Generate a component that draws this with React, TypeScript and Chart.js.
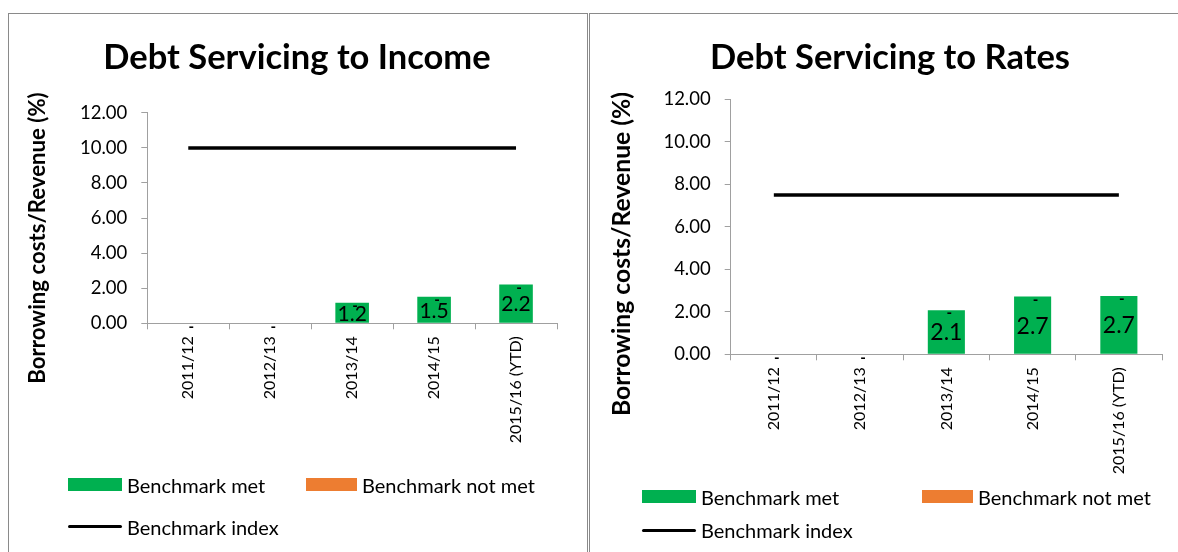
import React, { useEffect, useRef } from "react";
import { Chart, registerables } from "chart.js";

Chart.register(...registerables);

// ---- data ----
const categories = ["2011/12", "2012/13", "2013/14", "2014/15", "2015/16 (YTD)"];
const incomeMet = [0, 0, 1.17, 1.51, 2.21];
const incomeNotMet = [0, 0, 0, 0, 0];
const incomeBenchmark = [10, 10, 10, 10, 10];
const ratesMet = [0, 0, 2.08, 2.72, 2.74];
const ratesNotMet = [0, 0, 0, 0, 0];
const ratesBenchmark = [7.5, 7.5, 7.5, 7.5, 7.5];
const yMin = 0;
const yMax = 12;
const yStep = 2;
const yAxisTitle = "Borrowing costs/Revenue (%)";
const legendLabels = ["Benchmark met", "Benchmark not met", "Benchmark index"];

const GREEN = "#00B050";
const ORANGE = "#ED7D31";
const AXIS = "#a0a0a0";
const FONT = "Lato, Carlito, 'Open Sans', sans-serif";

const valueLabels = {
  id: "valueLabels",
  afterDatasetsDraw(chart: any, _a: any, opts: any) {
    const ctx = chart.ctx;
    const meta = chart.getDatasetMeta(0);
    const data = chart.data.datasets[0].data as number[];
    ctx.save();
    ctx.fillStyle = "#000";
    ctx.textAlign = "center";
    ctx.textBaseline = "middle";
    meta.data.forEach((el: any, i: number) => {
      const v = data[i];
      const { x, y, base } = el.getProps(["x", "y", "base"], true);
      if (v > 0) {
        ctx.font = `${opts.size}px ${FONT}`;
        ctx.fillText(v.toFixed(1), x, (y + base) / 2 + 1);
        ctx.font = `bold 15px ${FONT}`;
        ctx.fillText("-", x + 3, y + 3.5);
      } else {
        ctx.font = `bold 15px ${FONT}`;
        ctx.fillText("-", x + 3, base + 3.5);
      }
    });
    ctx.restore();
  },
};

const yTitlePlugin = {
  id: "yTitle",
  afterDraw(chart: any, _a: any, opts: any) {
    const ctx = chart.ctx;
    ctx.save();
    ctx.translate(opts.x, opts.y);
    ctx.rotate(-Math.PI / 2);
    ctx.fillStyle = "#000";
    ctx.textAlign = "center";
    ctx.textBaseline = "middle";
    ctx.font = `bold ${opts.size}px ${FONT}`;
    ctx.fillText(opts.text, 0, 0);
    ctx.restore();
  },
};

type PanelProps = {
  left: number;
  width: number;
  title: string;
  met: number[];
  notMet: number[];
  bench: number[];
  padL: number;
  padR: number;
  titleBottom: number;
  yWidth: number;
  xHeight: number;
  barPct: number;
  labelSize: number;
  yTitleX: number;
  yTitleY: number;
  yTitleSize: number;
};

function ChartPanel(p: PanelProps) {
  const ref = useRef<HTMLCanvasElement>(null);
  useEffect(() => {
    if (!ref.current) return;
    const chart = new Chart(ref.current, {
      type: "bar",
      data: {
        labels: categories,
        datasets: [
          {
            label: legendLabels[0],
            data: p.met,
            backgroundColor: GREEN,
            stack: "bars",
            barPercentage: p.barPct,
            categoryPercentage: 1,
            order: 2,
          },
          {
            label: legendLabels[1],
            data: p.notMet,
            backgroundColor: ORANGE,
            stack: "bars",
            barPercentage: p.barPct,
            categoryPercentage: 1,
            order: 2,
          },
          {
            type: "line",
            label: legendLabels[2],
            data: p.bench,
            borderColor: "#000",
            backgroundColor: "#000",
            borderWidth: 3.5,
            pointRadius: 0,
            stack: "line",
            order: 1,
          } as any,
        ],
      },
      options: {
        responsive: false,
        animation: false,
        devicePixelRatio: 1,
        layout: { padding: { left: p.padL, right: p.padR, top: 14, bottom: 0 } },
        plugins: {
          legend: { display: false },
          tooltip: { enabled: false },
          title: {
            display: true,
            text: p.title,
            color: "#000",
            font: { family: FONT, size: 34.5, weight: "bold", lineHeight: 1.2 },
            padding: { top: 23.3, bottom: p.titleBottom },
          },
          valueLabels: { size: p.labelSize },
          yTitle: { text: yAxisTitle, x: p.yTitleX, y: p.yTitleY, size: p.yTitleSize },
        } as any,
        scales: {
          x: {
            stacked: true,
            offset: true,
            grid: {
              offset: true,
              drawOnChartArea: false,
              drawTicks: true,
              tickLength: 6,
              color: AXIS,
            },
            border: { color: AXIS, width: 1 },
            ticks: {
              minRotation: 90,
              maxRotation: 90,
              autoSkip: false,
              padding: 7,
              color: "#000",
              font: { family: FONT, size: 16 },
            },
            afterFit: (s: any) => {
              s.height = p.xHeight;
            },
          },
          y: {
            stacked: true,
            min: yMin,
            max: yMax,
            ticks: {
              stepSize: yStep,
              callback: (v: any) => Number(v).toFixed(2),
              padding: 14,
              color: "#000",
              font: { family: FONT, size: 18.5 },
            },
            grid: { drawOnChartArea: false, drawTicks: true, tickLength: 6, color: AXIS },
            border: { color: AXIS, width: 1 },
            afterFit: (s: any) => {
              s.width = p.yWidth;
            },
          },
        },
      },
      plugins: [valueLabels as any, yTitlePlugin as any],
    });
    return () => chart.destroy();
  }, []);
  return (
    <canvas
      ref={ref}
      width={p.width}
      height={552}
      style={{ position: "absolute", left: p.left, top: 0, width: p.width, height: 552 }}
    />
  );
}

function Legend(props: { x: number; orangeX: number; row1: number; row2: number }) {
  const text = (l: number, cy: number, t: string) => (
    <div
      style={{
        position: "absolute",
        left: l,
        top: cy - 12,
        height: 24,
        lineHeight: "24px",
        fontSize: 20,
        fontFamily: FONT,
        color: "#000",
        whiteSpace: "nowrap",
      }}
    >
      {t}
    </div>
  );
  return (
    <>
      <div style={{ position: "absolute", left: props.x, top: props.row1 - 6.5, width: 54, height: 13, background: GREEN }} />
      {text(props.x + 59, props.row1, legendLabels[0])}
      <div style={{ position: "absolute", left: props.orangeX, top: props.row1 - 6.5, width: 51, height: 13, background: ORANGE }} />
      {text(props.orangeX + 56, props.row1, legendLabels[1])}
      <div style={{ position: "absolute", left: props.x, top: props.row2 - 1.5, width: 54, height: 3, background: "#000", borderRadius: 1.5 }} />
      {text(props.x + 59, props.row2, legendLabels[2])}
    </>
  );
}

export default function App() {
  return (
    <div
      style={{
        position: "fixed",
        left: 0,
        top: 0,
        width: 1178,
        height: 552,
        overflow: "hidden",
        background: "#fff",
      }}
    >
      <div style={{ position: "absolute", left: 8, top: 13, width: 578, height: 600, border: "1px solid #8a8a8a" }} />
      <div style={{ position: "absolute", left: 589, top: 13, width: 600, height: 600, border: "1px solid #8a8a8a" }} />
      <ChartPanel
        left={0}
        width={590}
        title="Debt Servicing to Income"
        met={incomeMet}
        notMet={incomeNotMet}
        bench={incomeBenchmark}
        padL={37}
        padR={33}
        titleBottom={34.1}
        yWidth={110.3}
        xHeight={228.7}
        barPct={0.41}
        labelSize={21}
        yTitleX={38}
        yTitleY={238}
        yTitleSize={22.2}
      />
      <ChartPanel
        left={590}
        width={588}
        title="Debt Servicing to Rates"
        met={ratesMet}
        notMet={ratesNotMet}
        bench={ratesBenchmark}
        padL={28}
        padR={16}
        titleBottom={20.8}
        yWidth={112.7}
        xHeight={197.7}
        barPct={0.43}
        labelSize={23}
        yTitleX={32}
        yTitleY={254}
        yTitleSize={24.7}
      />
      <Legend x={68} orangeX={306} row1={484.5} row2={526.5} />
      <Legend x={642} orangeX={922} row1={496.5} row2={530} />
    </div>
  );
}
